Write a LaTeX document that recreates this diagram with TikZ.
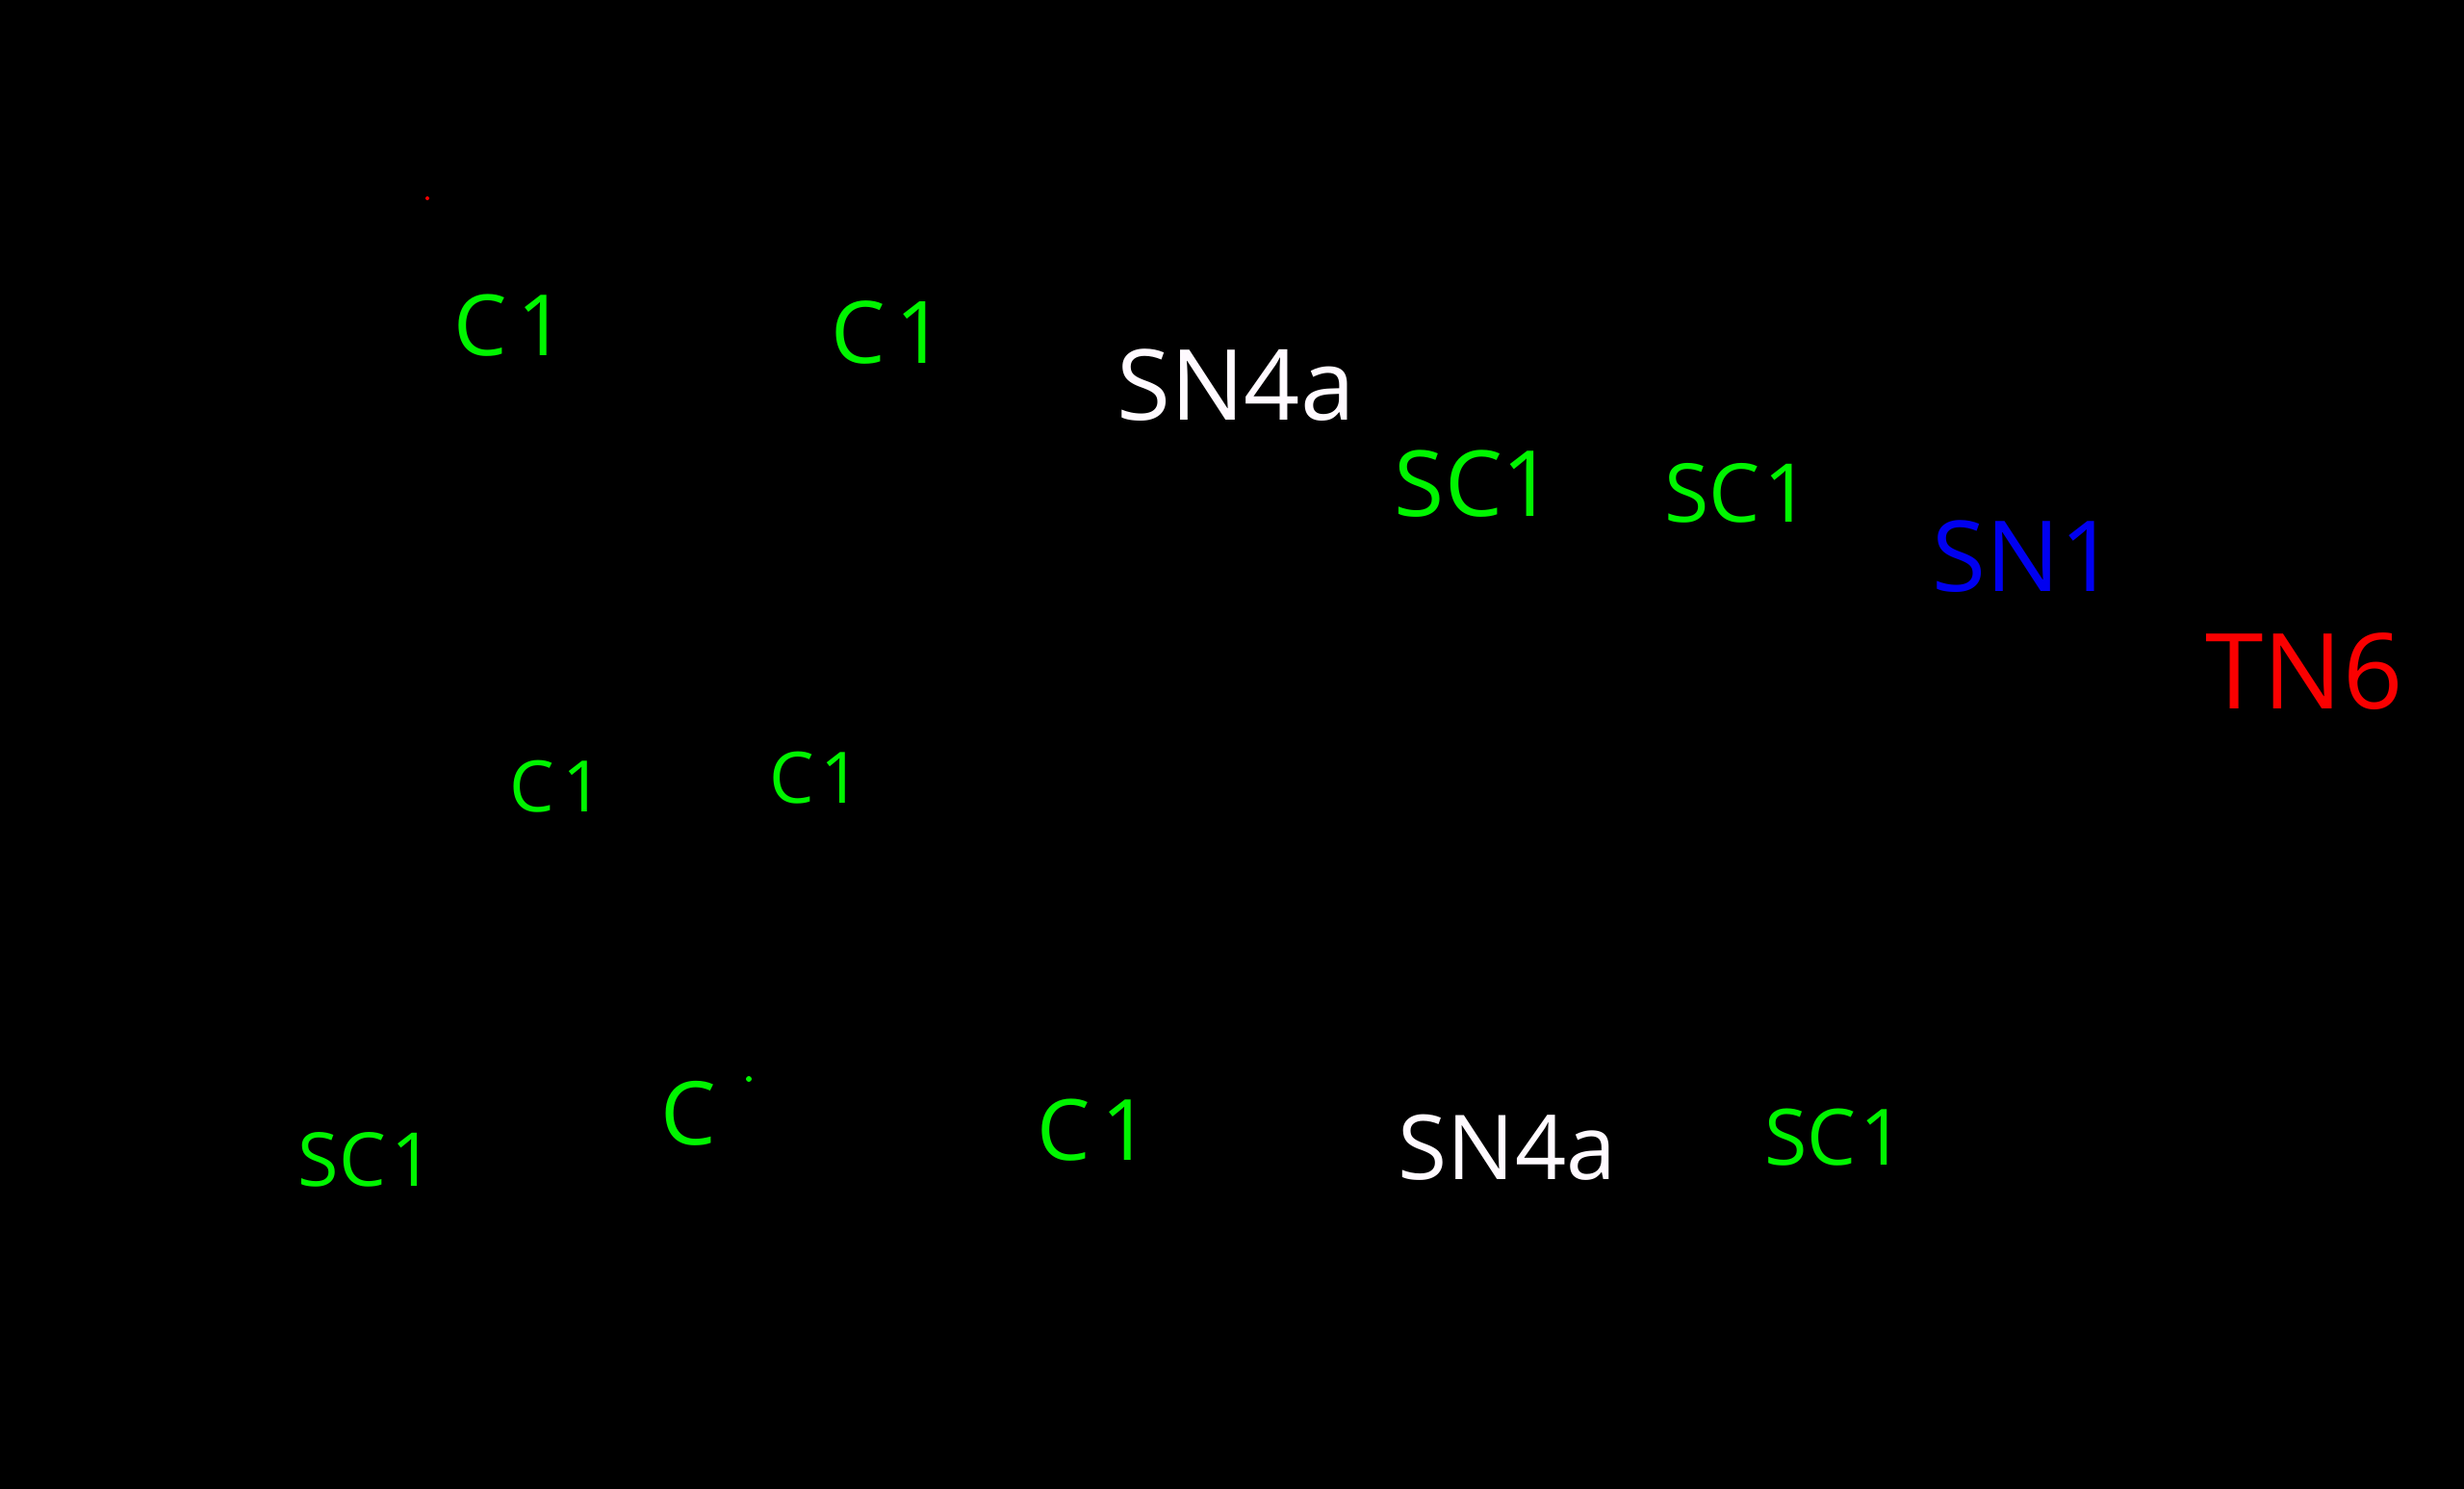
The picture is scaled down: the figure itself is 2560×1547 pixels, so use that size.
\documentclass[tikz,border=0pt]{standalone}
\usepackage{fontspec}
\setmainfont{Open Sans}
\definecolor{hgreen}{RGB}{0,245,0}
\definecolor{hblue}{RGB}{0,0,240}
\definecolor{hred}{RGB}{250,0,0}
\definecolor{hwhite}{RGB}{255,250,255}
\tikzset{
  lbl/.style={inner sep=0pt, anchor=center},
  grn/.style={lbl, text=hgreen},
  fs/.style={font=\fontsize{#1}{#1}\selectfont}
}
\begin{document}
\begin{tikzpicture}[x=0.1mm,y=-0.1mm]
\fill[black] (0,0) rectangle (2560,1547);
\useasboundingbox (0,0) rectangle (2560,1547);
% top row
\node[grn, fs=25pt] (c1a) at (530,338) {C\kern3pt 1};
\node[grn, fs=25.5pt] (c1b) at (923,345) {C\kern3pt 1};
\node[lbl, text=hwhite, fs=29pt] (sn4top) at (1284,400) {SN4a};
\node[grn, fs=27pt] (sc1a) at (1532,503) {SC1};
\node[grn, fs=24pt] (sc1b) at (1805,512) {SC\kern1pt 1};
\node[lbl, text=hblue, fs=29pt] (sn1) at (2103,578) {SN1};
\node[lbl, text=hred, fs=31pt] (tn6) at (2394,698) {TN6};
% middle row
\node[grn, fs=21pt] (c1c) at (578,817) {C\kern2.5pt 1};
\node[grn, fs=21pt] (c1d) at (847,808) {C\kern2pt 1};
% bottom row
\node[grn, fs=22pt] (sc1c) at (380,1205) {SC\kern1.5pt 1};
\node[grn, fs=26pt] (cbot) at (715,1157) {C};
\fill[hgreen] (778,1121) circle (3);
\node[grn, fs=25pt] (c1e) at (1136,1174) {C\kern3.5pt 1};
\node[lbl, text=hwhite, fs=26.5pt] (sn4bot) at (1566,1192) {SN4a};
\node[grn, fs=23pt] (sc1d) at (1906,1182) {SC\kern1pt 1};
% tiny red mark
\fill[hred] (444,206) circle (2);
\end{tikzpicture}
\end{document}
